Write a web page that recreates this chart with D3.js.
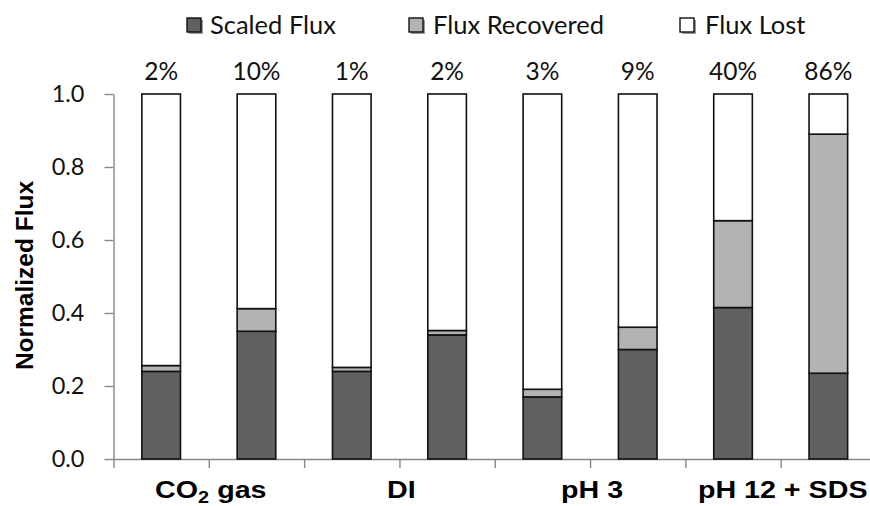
<!DOCTYPE html>
<html>
<head>
<meta charset="utf-8">
<script src="https://cdn.jsdelivr.net/npm/d3@7"></script>
<style>
  html, body { margin: 0; padding: 0; background: #fff; }
  svg { display: block; }
</style>
</head>
<body>
<svg id="chart" width="870" height="506"></svg>
<script>
// Eight cleaning runs, two per cleaning agent
const barIds = ["co2-1", "co2-2", "di-1", "di-2", "ph3-1", "ph3-2", "ph12-1", "ph12-2"];
const groupLabels = ["CO₂ gas", "DI", "pH 3", "pH 12 + SDS"];
const seriesNames = ["Scaled Flux", "Flux Recovered", "Flux Lost"];
const scaledFlux    = [0.240, 0.350, 0.240, 0.340, 0.170, 0.300, 0.415, 0.235];
const fluxRecovered = [0.016, 0.062, 0.011, 0.012, 0.021, 0.061, 0.238, 0.655];
const fluxLost      = [0.744, 0.588, 0.749, 0.648, 0.809, 0.639, 0.347, 0.110];
const recoveryLabels = ["2%", "10%", "1%", "2%", "3%", "9%", "40%", "86%"];
const yTicks = [0, 0.2, 0.4, 0.6, 0.8, 1.0];

const colors = ["#606060", "#b3b3b3", "#ffffff"];
const axisColor = "#878787";
const bodyFont = "Lato, 'Open Sans', sans-serif";
const boldFont = "'Liberation Sans', Arial, sans-serif";

const svg = d3.select("#chart");
const plot = { left: 113.5, right: 876, top: 94, bottom: 459 };

const rows = barIds.map((id, i) => ({
  id,
  "Scaled Flux": scaledFlux[i],
  "Flux Recovered": fluxRecovered[i],
  "Flux Lost": fluxLost[i]
}));
const stacked = d3.stack().keys(seriesNames)(rows);

const x = d3.scaleBand()
  .domain(barIds)
  .range([plot.left, plot.right])
  .paddingInner(0.595)
  .paddingOuter(0.2975);
const boundary = d3.scaleLinear().domain([0, barIds.length]).range([plot.left, plot.right]);
const y = d3.scaleLinear().domain([0, 1]).range([plot.bottom, plot.top]);

// Axes
const xAxis = svg.append("g")
  .attr("transform", `translate(0,${plot.bottom})`)
  .call(d3.axisBottom(boundary)
    .tickValues(d3.range(barIds.length + 1))
    .tickFormat("")
    .tickSize(9)
    .tickSizeOuter(0));
xAxis.selectAll("path, line").attr("stroke", axisColor).attr("stroke-width", 1.4);

const yAxis = svg.append("g")
  .attr("transform", `translate(${plot.left},0)`)
  .call(d3.axisLeft(y)
    .tickValues(yTicks)
    .tickFormat(d3.format(".1f"))
    .tickSize(9)
    .tickPadding(20)
    .tickSizeOuter(0));
yAxis.selectAll("path, line").attr("stroke", axisColor).attr("stroke-width", 1.4);
yAxis.selectAll("text")
  .attr("fill", "#111")
  .style("font-family", bodyFont)
  .style("font-size", "23.5px");

// Stacked bars
svg.append("g").selectAll("g")
  .data(stacked)
  .join("g")
  .attr("fill", (d, i) => colors[i])
  .selectAll("rect")
  .data(d => d)
  .join("rect")
  .attr("x", d => x(d.data.id))
  .attr("width", x.bandwidth())
  .attr("y", d => y(d[1]))
  .attr("height", d => y(d[0]) - y(d[1]))
  .attr("stroke", "#111")
  .attr("stroke-width", 1.6);

// Recovery percentages above each bar
svg.append("g").selectAll("text")
  .data(barIds)
  .join("text")
  .attr("x", d => x(d) + x.bandwidth() / 2)
  .attr("y", 80)
  .attr("text-anchor", "middle")
  .attr("fill", "#111")
  .style("font-family", bodyFont)
  .style("font-size", "24.5px")
  .text((d, i) => recoveryLabels[i]);

// Group labels under each pair of bars
const groupText = svg.append("g").selectAll("text")
  .data(groupLabels)
  .join("text")
  .attr("transform", (d, i) => `translate(${boundary(2 * i + 1) + 2},498) scale(1.17,1)`)
  .attr("text-anchor", "middle")
  .attr("fill", "#000")
  .style("font-family", boldFont)
  .style("font-weight", "bold")
  .style("font-size", "24.5px");
groupText.each(function (d) {
  const t = d3.select(this);
  const m = d.match(/^(.*?)([₀-₉])(.*)$/);
  if (m) {
    const digit = String.fromCharCode(m[2].charCodeAt(0) - 0x2080 + 48);
    t.append("tspan").text(m[1]);
    t.append("tspan").text(digit).attr("dy", 5).style("font-size", "17px");
    t.append("tspan").text(m[3]).attr("dy", -5);
  } else {
    t.text(d);
  }
});

// Y axis title
svg.append("text")
  .attr("transform", `translate(33,275.5) rotate(-90)`)
  .attr("text-anchor", "middle")
  .attr("fill", "#000")
  .style("font-family", boldFont)
  .style("font-weight", "bold")
  .style("font-size", "24.5px")
  .text("Normalized Flux");

// Legend
const legendItems = [
  { name: seriesNames[0], box: 187, text: 210 },
  { name: seriesNames[1], box: 409, text: 433 },
  { name: seriesNames[2], box: 680, text: 705 }
];
const legend = svg.append("g").selectAll("g")
  .data(legendItems)
  .join("g");
legend.append("rect")
  .attr("x", d => d.box + 2)
  .attr("y", 20)
  .attr("width", 14)
  .attr("height", 14)
  .attr("fill", "#9a9a9a");
legend.append("rect")
  .attr("x", d => d.box)
  .attr("y", 18)
  .attr("width", 14)
  .attr("height", 14)
  .attr("fill", (d, i) => colors[i])
  .attr("stroke", "#111")
  .attr("stroke-width", 1.4);
legend.append("text")
  .attr("x", d => d.text)
  .attr("y", 34)
  .attr("fill", "#111")
  .style("font-family", bodyFont)
  .style("font-size", "25.5px")
  .text(d => d.name);
</script>
</body>
</html>
